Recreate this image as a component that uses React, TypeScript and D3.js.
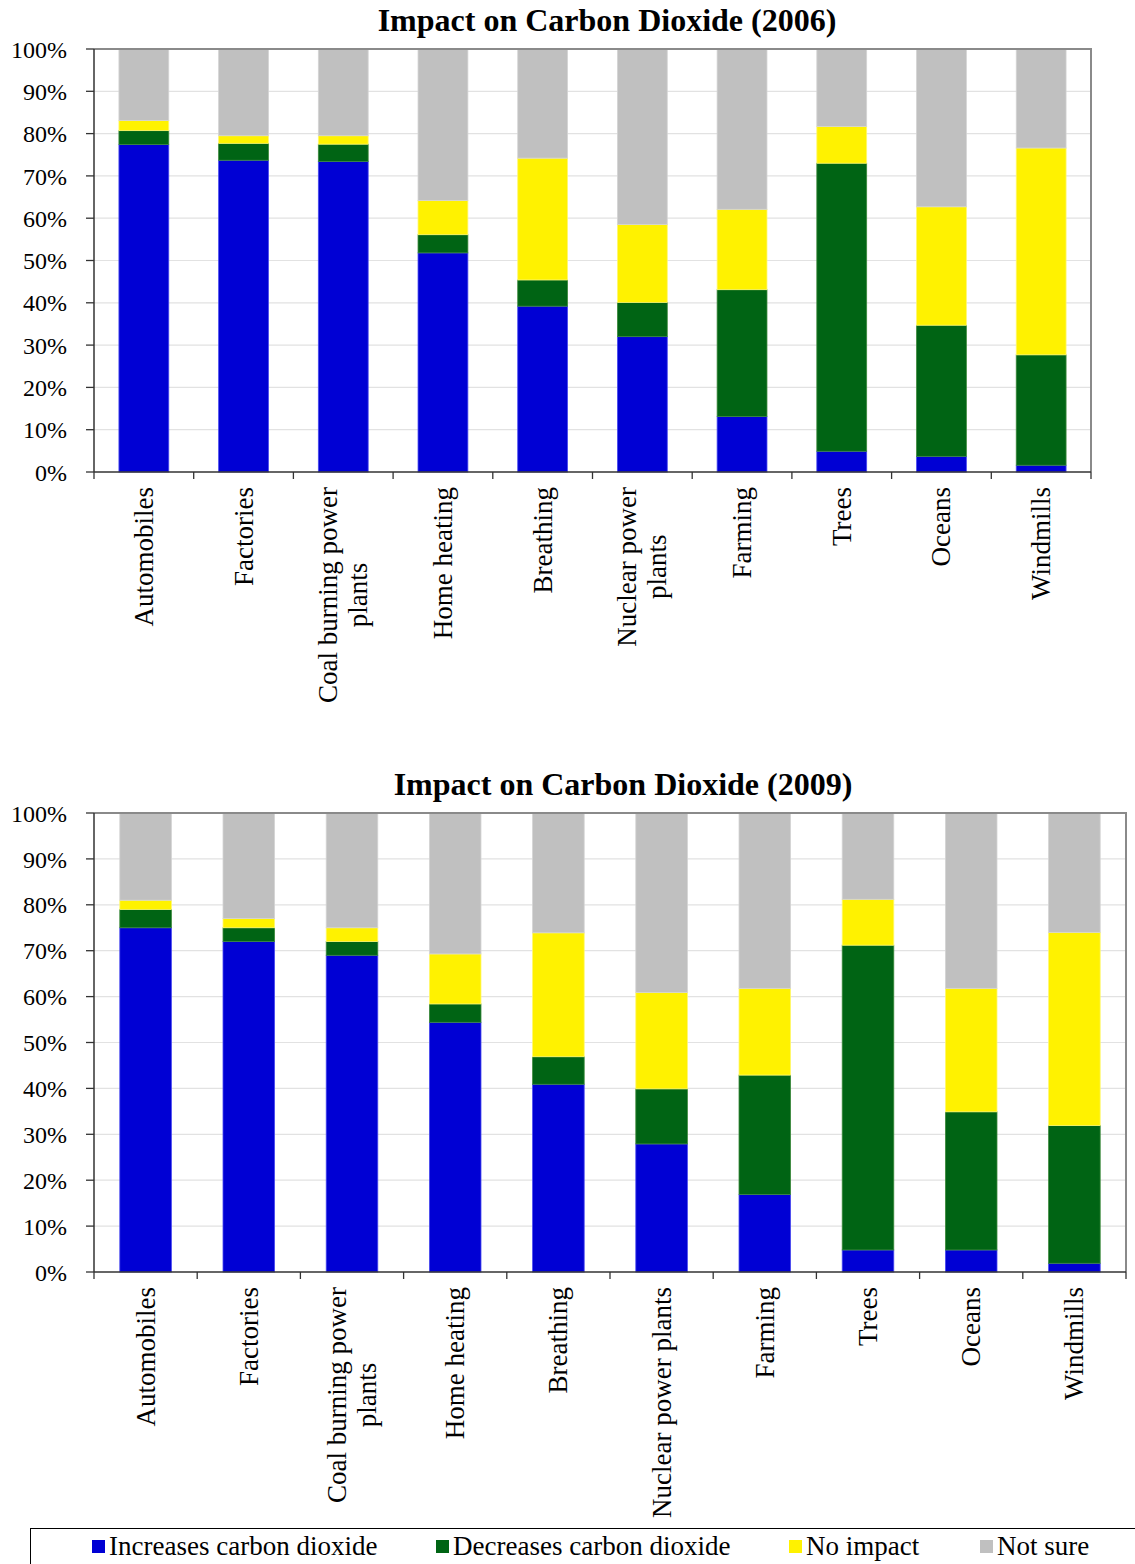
import React, { useEffect, useRef } from "react";
import * as d3 from "d3";

const categories2006 = [
  "Automobiles",
  "Factories",
  "Coal burning power\nplants",
  "Home heating",
  "Breathing",
  "Nuclear power\nplants",
  "Farming",
  "Trees",
  "Oceans",
  "Windmills",
];
const categories2009 = [
  "Automobiles",
  "Factories",
  "Coal burning power\nplants",
  "Home heating",
  "Breathing",
  "Nuclear power plants",
  "Farming",
  "Trees",
  "Oceans",
  "Windmills",
];

const seriesNames = [
  "Increases carbon dioxide",
  "Decreases carbon dioxide",
  "No impact",
  "Not sure",
];
const seriesColors = ["#0000D4", "#006414", "#FFF200", "#C0C0C0"];
const seriesStrokes = ["#4a4af0", "#3c8a3c", "#fff870", "#d4d4d4"];

// 2006 shares (%)
const increases2006 = [77.4, 73.7, 73.4, 51.8, 39.2, 32.0, 13.1, 4.9, 3.7, 1.6];
const decreases2006 = [3.3, 4.0, 4.1, 4.3, 6.2, 8.1, 30.0, 68.1, 31.0, 26.1];
const noImpact2006 = [2.4, 1.8, 2.0, 8.1, 28.8, 18.4, 19.0, 8.7, 28.0, 48.9];
const notSure2006 = [16.9, 20.5, 20.5, 35.8, 25.8, 41.5, 37.9, 18.3, 37.3, 23.4];

// 2009 shares (%)
const increases2009 = [75, 72, 69, 54.4, 40.9, 27.9, 16.9, 4.8, 4.8, 1.9];
const decreases2009 = [4, 3, 3, 4, 6, 12, 26, 66.4, 30.1, 30];
const noImpact2009 = [2, 2, 3, 10.9, 27, 21, 18.9, 10, 26.9, 42.1];
const notSure2009 = [19, 23, 25, 30.7, 26.1, 39.1, 38.2, 18.8, 38.2, 26];

const yTicks = [0, 10, 20, 30, 40, 50, 60, 70, 80, 90, 100];

const FONT = "'Liberation Serif', 'Times New Roman', serif";

type ChartCfg = {
  title: string;
  titleX: number;
  titleY: number;
  cats: string[];
  series: number[][];
  left: number;
  right: number;
  top: number;
  bottom: number;
  labelTop: number;
};

function drawChart(svg: d3.Selection<SVGSVGElement, unknown, null, undefined>, cfg: ChartCfg) {
  const g = svg.append("g");
  const x = d3
    .scaleBand<string>()
    .domain(cfg.cats)
    .range([cfg.left, cfg.right])
    .paddingInner(0.5)
    .paddingOuter(0.25);
  const band = d3.scaleBand<string>().domain(cfg.cats).range([cfg.left, cfg.right]);
  const y = d3.scaleLinear().domain([0, 100]).range([cfg.bottom, cfg.top]);

  // gridlines
  g.selectAll("line.grid")
    .data(yTicks.slice(1))
    .enter()
    .append("line")
    .attr("x1", cfg.left)
    .attr("x2", cfg.right)
    .attr("y1", (d) => y(d))
    .attr("y2", (d) => y(d))
    .attr("stroke", "#e2e2e2")
    .attr("stroke-width", 1.2);

  // stacked data
  const rows = cfg.cats.map((c, i) => {
    const r: any = { cat: c };
    cfg.series.forEach((s, k) => (r["s" + k] = s[i]));
    return r;
  });
  const stack = d3.stack<any>().keys(cfg.series.map((_, k) => "s" + k));
  const stacked = stack(rows);

  stacked.forEach((layer, k) => {
    g.append("g")
      .selectAll("rect")
      .data(layer)
      .enter()
      .append("rect")
      .attr("x", (d: any) => x(d.data.cat)!)
      .attr("width", x.bandwidth())
      .attr("y", (d: any) => y(Math.min(100, d[1])))
      .attr("height", (d: any) => y(d[0]) - y(Math.min(100, d[1])))
      .attr("fill", seriesColors[k])
      .attr("stroke", seriesStrokes[k])
      .attr("stroke-width", 0.8);
  });

  // plot border top/right
  g.append("path")
    .attr("d", `M${cfg.left},${cfg.top}H${cfg.right}V${cfg.bottom}`)
    .attr("fill", "none")
    .attr("stroke", "#8a8a8a")
    .attr("stroke-width", 2);

  // y axis
  g.append("line")
    .attr("x1", cfg.left)
    .attr("x2", cfg.left)
    .attr("y1", cfg.top)
    .attr("y2", cfg.bottom)
    .attr("stroke", "#333")
    .attr("stroke-width", 1.5);
  g.selectAll("line.ytick")
    .data(yTicks)
    .enter()
    .append("line")
    .attr("x1", cfg.left - 8)
    .attr("x2", cfg.left)
    .attr("y1", (d) => y(d))
    .attr("y2", (d) => y(d))
    .attr("stroke", "#333")
    .attr("stroke-width", 1.3);
  g.selectAll("text.ylab")
    .data(yTicks)
    .enter()
    .append("text")
    .attr("x", cfg.left - 27)
    .attr("y", (d) => y(d))
    .attr("dy", "0.36em")
    .attr("text-anchor", "end")
    .attr("font-family", FONT)
    .attr("font-size", 24)
    .attr("fill", "#000")
    .text((d) => d + "%");

  // x axis
  g.append("line")
    .attr("x1", cfg.left)
    .attr("x2", cfg.right)
    .attr("y1", cfg.bottom)
    .attr("y2", cfg.bottom)
    .attr("stroke", "#333")
    .attr("stroke-width", 1.5);
  const tickXs = cfg.cats.map((c) => band(c)!).concat([cfg.right]);
  g.selectAll("line.xtick")
    .data(tickXs)
    .enter()
    .append("line")
    .attr("x1", (d) => d)
    .attr("x2", (d) => d)
    .attr("y1", cfg.bottom)
    .attr("y2", cfg.bottom + 7)
    .attr("stroke", "#333")
    .attr("stroke-width", 1.3);

  // x labels (rotated)
  cfg.cats.forEach((c) => {
    const cx = x(c)! + x.bandwidth() / 2;
    const lines = c.split("\n");
    const lg = g
      .append("g")
      .attr("transform", `translate(${cx},${cfg.labelTop}) rotate(-90)`);
    const lineH = 30;
    const texts = lines.map((ln, i) =>
      lg
        .append("text")
        .attr("font-family", FONT)
        .attr("font-size", 27)
        .attr("fill", "#000")
        .attr("y", (i - (lines.length - 1) / 2) * lineH + 9)
        .text(ln)
    );
    if (lines.length === 1) {
      texts[0].attr("x", 0).attr("text-anchor", "end");
    } else {
      const w = d3.max(texts, (t) => (t.node() as SVGTextElement).getComputedTextLength()) || 0;
      texts.forEach((t) => t.attr("x", -w / 2).attr("text-anchor", "middle"));
    }
  });

  // title
  g.append("text")
    .attr("x", cfg.titleX)
    .attr("y", cfg.titleY)
    .attr("text-anchor", "middle")
    .attr("font-family", FONT)
    .attr("font-weight", "bold")
    .attr("font-size", 32)
    .attr("fill", "#000")
    .text(cfg.title);
}

export default function App() {
  const ref = useRef<SVGSVGElement>(null);
  useEffect(() => {
    const svg = d3.select(ref.current!);
    svg.selectAll("*").remove();
    svg.append("rect").attr("width", 1135).attr("height", 1564).attr("fill", "#fff");

    drawChart(svg, {
      title: "Impact on Carbon Dioxide (2006)",
      titleX: 607,
      titleY: 31,
      cats: categories2006,
      series: [increases2006, decreases2006, noImpact2006, notSure2006],
      left: 94,
      right: 1091,
      top: 49,
      bottom: 472,
      labelTop: 487,
    });
    drawChart(svg, {
      title: "Impact on Carbon Dioxide (2009)",
      titleX: 623,
      titleY: 795,
      cats: categories2009,
      series: [increases2009, decreases2009, noImpact2009, notSure2009],
      left: 94,
      right: 1126,
      top: 813,
      bottom: 1272,
      labelTop: 1287,
    });

    // legend
    const lg = svg.append("g");
    lg.append("rect")
      .attr("x", 30.5)
      .attr("y", 1528.5)
      .attr("width", 1200)
      .attr("height", 100)
      .attr("fill", "#fff")
      .attr("stroke", "#000")
      .attr("stroke-width", 1);
    const swatchX = [92, 436, 789, 980];
    seriesNames.forEach((name, k) => {
      lg.append("rect")
        .attr("x", swatchX[k])
        .attr("y", 1540)
        .attr("width", 13)
        .attr("height", 13)
        .attr("fill", seriesColors[k]);
      lg.append("text")
        .attr("x", swatchX[k] + 17)
        .attr("y", 1555)
        .attr("font-family", FONT)
        .attr("font-size", 27)
        .attr("fill", "#000")
        .text(name);
    });
  }, []);
  return (
    <svg
      ref={ref}
      width={1135}
      height={1564}
      style={{ position: "absolute", left: 0, top: 0, display: "block" }}
    />
  );
}
